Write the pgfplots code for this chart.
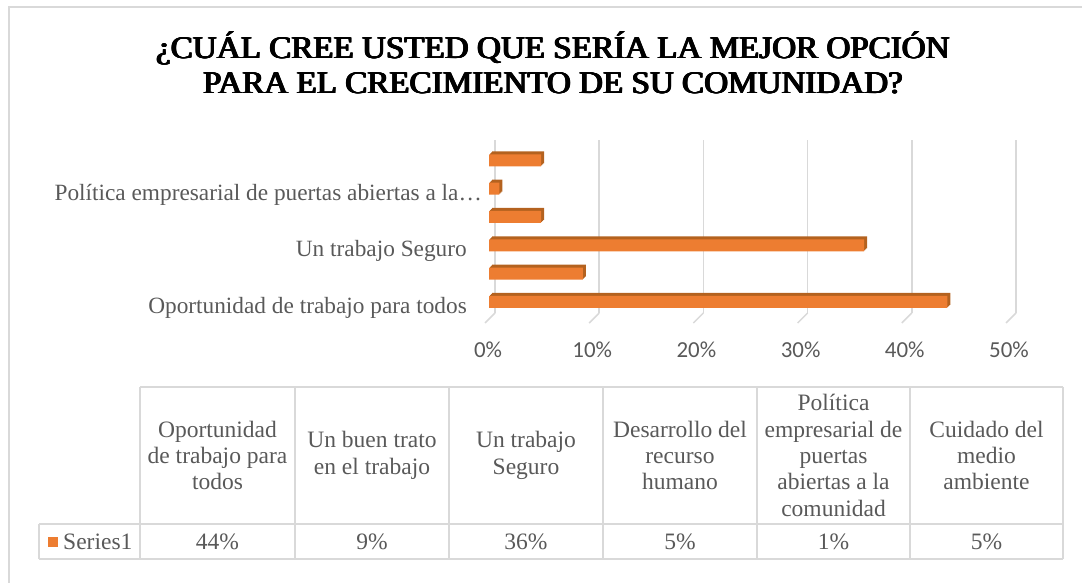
\documentclass[border=0pt]{standalone}
\usepackage{fontspec}
\setmainfont{Liberation Serif}
\newfontfamily\carlito{Carlito}
\usepackage{pgfplots}
\usepackage{pgfplotstable}
\pgfplotsset{compat=1.18}
\definecolor{barorange}{HTML}{ED7D31}
\definecolor{bardark}{HTML}{B4621F}
\definecolor{gridgray}{HTML}{D9D9D9}
\definecolor{txtgray}{HTML}{595959}
\pgfplotstableread{
c v
0 44
1 9
2 36
3 5
4 1
5 5
}\data
\begin{document}
\begin{tikzpicture}
\path[use as bounding box] (0bp,0bp) rectangle (1082bp,583bp);
% outer frame
\draw[gridgray, line width=1.5bp] (9bp,0bp) -- (9bp,576bp) -- (1082bp,576bp);
% title (regular serif overprinted to look bold)
\foreach \dx/\dy in {0/0, 0.5/0, 1.0/0, 1.5/0, 0.25/0.35, 1.25/0.35} {
\node[align=center, font=\fontsize{31.5}{35.5}\selectfont, text=black, inner sep=0pt, xscale=1.055, transform shape] at (552.25bp+\dx bp,520bp+\dy bp)
  {¿CUÁL CREE USTED QUE SERÍA LA MEJOR OPCIÓN\\PARA EL CRECIMIENTO DE SU COMUNIDAD?};
}
\begin{axis}[
  at={(495bp,270bp)}, anchor=south west,
  scale only axis, width=521bp, height=172.6bp,
  xmin=0, xmax=50, ymin=-0.5, ymax=5.6,
  clip=false,
  axis line style={draw=none},
  major tick length=0pt,
  xmajorgrids, grid style={gridgray, line width=1.5bp},
  xtick={0,10,20,30,40,50},
  xticklabels={0\%,10\%,20\%,30\%,40\%,50\%},
  xticklabel style={font=\carlito\fontsize{23}{23}\selectfont, text=txtgray, anchor=center, inner sep=0pt, yshift=-37bp, xshift=-7bp},
  ytick={0,2,4},
  yticklabels={Oportunidad de trabajo para todos, Un trabajo Seguro, Política empresarial de puertas abiertas a la…\hspace*{-15bp}},
  yticklabel style={font=\fontsize{23.4}{23.4}\selectfont, text=txtgray, anchor=east, inner sep=0pt, xshift=-28bp, yshift=-9bp},
]
\pgfplotsinvokeforeach{0,10,20,30,40,50}{
  \draw[gridgray, line width=1.5bp] (axis cs:#1,-0.5) -- ++(-10bp,-10bp);
}
\addplot[xbar, bar shift=0pt, bar width=12bp, fill=bardark, draw=none, xshift=-3bp, yshift=0bp] table[x=v,y=c]{\data};
\addplot[xbar, bar shift=0pt, bar width=12bp, fill=bardark, draw=none, xshift=-4bp, yshift=-1bp] table[x=v,y=c]{\data};
\addplot[xbar, bar shift=0pt, bar width=12bp, fill=bardark, draw=none, xshift=-5bp, yshift=-2bp] table[x=v,y=c]{\data};
\addplot[xbar, bar shift=0pt, bar width=12bp, fill=barorange, draw=none, xshift=-6bp, yshift=-3bp] table[x=v,y=c]{\data};
\end{axis}
% data table
\begin{scope}[gridgray, line width=1.2bp]
\draw (140bp,196bp) -- (1063bp,196bp);
\draw (39bp,59bp) -- (1063bp,59bp);
\draw (39bp,24bp) -- (1063bp,24bp);
\draw (39bp,59bp) -- (39bp,24bp);
\foreach \xx in {140,295,449,603,757,910,1063} {\draw (\xx bp,196bp) -- (\xx bp,24bp);}
\end{scope}
\begin{scope}[every node/.style={align=center, text=txtgray, font=\fontsize{23.6}{26.5}\selectfont, inner sep=0pt}]
\node at (217.5bp,127.5bp) {Oportunidad\\de trabajo para\\todos};
\node at (372bp,127.5bp) {Un buen trato\\en el trabajo};
\node at (526bp,127.5bp) {Un trabajo\\Seguro};
\node at (680bp,127.5bp) {Desarrollo del\\recurso\\humano};
\node at (833.5bp,127.5bp) {Política\\empresarial de\\puertas\\abiertas a la\\comunidad};
\node at (986.5bp,127.5bp) {Cuidado del\\medio\\ambiente};
\node at (217.5bp,41.5bp) {44\%};
\node at (372bp,41.5bp) {9\%};
\node at (526bp,41.5bp) {36\%};
\node at (680bp,41.5bp) {5\%};
\node at (833.5bp,41.5bp) {1\%};
\node at (986.5bp,41.5bp) {5\%};
\node[anchor=west] at (63bp,41.5bp) {Series1};
\end{scope}
\fill[barorange] (48bp,36bp) rectangle (58bp,46bp);
\end{tikzpicture}
\end{document}
